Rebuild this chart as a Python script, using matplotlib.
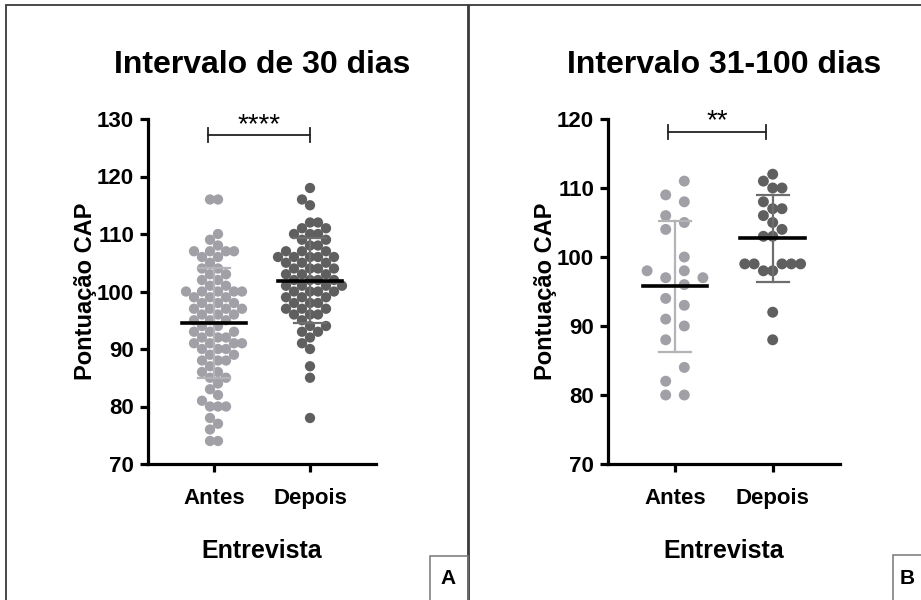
import numpy as np
import matplotlib
matplotlib.use("Agg")
import matplotlib.pyplot as plt
from matplotlib.patches import Rectangle

plt.rcParams['font.family'] = ['Liberation Sans', 'DejaVu Sans']
plt.rcParams['font.weight'] = 'bold'

# ---- data ----
groups = ['Antes', 'Depois']

a30_antes = [116, 116, 110, 109, 108, 107, 107, 107, 107, 106, 106, 105, 104, 104,
             103, 103, 102, 102, 101, 101, 100, 100, 100, 100, 100, 99, 99, 99,
             98, 98, 98, 97, 97, 97, 97, 96, 96, 96, 95, 95, 95, 94, 94, 93, 93,
             93, 92, 92, 92, 91, 91, 91, 91, 90, 90, 90, 89, 89, 88, 88, 88, 87,
             86, 86, 85, 85, 84, 83, 82, 81, 80, 80, 80, 78, 77, 76, 74, 74]
a30_depois = [118, 116, 115, 112, 112, 111, 111, 110, 110, 110, 109, 109, 108,
              108, 107, 107, 107, 106, 106, 106, 106, 106, 105, 105, 105, 104,
              104, 104, 104, 103, 103, 103, 102, 102, 102, 102, 101, 101, 101,
              101, 100, 100, 100, 100, 99, 99, 99, 98, 98, 98, 97, 97, 97, 96,
              96, 96, 95, 94, 94, 93, 93, 92, 91, 90, 87, 85, 78]

b100_antes = [111, 109, 108, 106, 105, 104, 100, 98, 98, 97, 97, 96, 94, 93, 91,
              90, 88, 84, 82, 80, 80]
b100_depois = [112, 111, 110, 110, 108, 107, 107, 106, 105, 104, 103, 103, 99,
               99, 99, 99, 99, 98, 98, 92, 88]

titles = ['Intervalo de 30 dias', 'Intervalo 31-100 dias']
stars = ['****', '**']
panel_tags = ['A', 'B']

c_antes = '#a0a0a6'
c_depois = '#5f5f5f'
c_bar_antes = '#b4b4b8'
c_bar_depois = '#6e6e6e'

W, H = 921, 600
fig = plt.figure(figsize=(W / 100, H / 100), dpi=100)


def fx(px):
    return px / W


def fy(py):
    return 1 - py / H


def swarm(vals, ppu_y, g, d, odd=False):
    # beeswarm on a column grid (pixel units), lowest value first
    placed = []
    offs = np.zeros(len(vals))
    if odd:
        cols = [(2 * k + 1) * g for k in range(-10, 10)]
    else:
        cols = [k * g for k in range(-15, 16)]
    flip = -1
    for idx in np.argsort(vals, kind='stable'):
        y = vals[idx] * ppu_y
        cols.sort(key=lambda c: (round(abs(c), 3), -flip * c))
        for c in cols:
            if all((c - px) ** 2 + (y - py) ** 2 >= d * d - 1e-6 for px, py in placed):
                break
        if c != 0:
            flip = -np.sign(c)
        placed.append((c, y))
        offs[idx] = c
    return offs


def panel(ax_px, ylim, yticks, data, title, star, bracket, grid, msize, odd):
    x0, x1, ytop, ybot, xa, xb = ax_px
    ax = fig.add_axes([fx(x0), fy(ybot), fx(x1 - x0), (ybot - ytop) / H])
    ppu_x = xb - xa
    ax.set_xlim((x0 - xa) / ppu_x, (x1 - xa) / ppu_x)
    ax.set_ylim(*ylim)
    ppu_y = (ybot - ytop) / (ylim[1] - ylim[0])

    for i, (vals, col, bcol) in enumerate(zip(data, [c_antes, c_depois],
                                               [c_bar_antes, c_bar_depois])):
        v = np.array(vals, dtype=float)
        off = swarm(v, ppu_y, grid[0], grid[1], odd[i]) / ppu_x
        ax.scatter(i + off, v, s=msize, color=col, edgecolors='none', zorder=2)
        m, sd = v.mean(), v.std(ddof=1)
        ax.plot([i, i], [m - sd, m + sd], color=bcol, lw=1.6, zorder=3)
        ax.plot([i - 0.165, i + 0.165], [m + sd, m + sd], color=bcol, lw=1.6, zorder=3)
        ax.plot([i - 0.165, i + 0.165], [m - sd, m - sd], color=bcol, lw=1.6, zorder=3)
        ax.plot([i - 0.33, i + 0.33], [m, m], color='black', lw=2.6, zorder=4)

    bl, br, by, bh = bracket
    kw = dict(color='#222222', lw=1.3, clip_on=False)
    ax.plot([bl, br], [by, by], **kw)
    ax.plot([bl, bl], [by - bh, by + bh], **kw)
    ax.plot([br, br], [by - bh, by + bh], **kw)
    ax.text((bl + br) / 2, by + 0.55, star, ha='center', va='baseline',
            fontsize=20, fontweight='normal', clip_on=False)

    for s in ['top', 'right']:
        ax.spines[s].set_visible(False)
    for s in ['left', 'bottom']:
        ax.spines[s].set_linewidth(2.3)
    ax.set_yticks(yticks)
    ax.set_xticks([0, 1])
    ax.set_xticklabels(groups)
    ax.tick_params(width=2.3, length=6)
    ax.tick_params(axis='y', labelsize=16, pad=4)
    ax.tick_params(axis='x', labelsize=16, pad=11)
    for lab in ax.get_xticklabels() + ax.get_yticklabels():
        lab.set_fontweight('bold')
    ax.set_ylabel('Pontuação CAP', fontsize=17, fontweight='bold', labelpad=0)
    ax.set_xlabel('Entrevista', fontsize=18, fontweight='bold', labelpad=22)
    ax.set_title(title, fontsize=23, fontweight='bold', pad=33)
    return ax


panel((148, 376, 119, 464, 214, 310), (70, 130), [70, 80, 90, 100, 110, 120, 130],
      [a30_antes, a30_depois], titles[0], stars[0], (-0.065, 1.0, 127.2, 1.2),
      grid=(4.0, 7.5), msize=55, odd=(True, False))
panel((608, 840, 119, 464, 675, 772.7), (70, 120), [70, 80, 90, 100, 110, 120],
      [b100_antes, b100_depois], titles[1], stars[1], (-0.075, 0.93, 118.1, 1.0),
      grid=(9.3, 9.0), msize=62, odd=(True, False))

# panel frames and corner tags
edge = '#3a3a3a'
fig.add_artist(Rectangle((fx(5.5), fy(640)), fx(468 - 5.5), (640 - 5.5) / H,
                         transform=fig.transFigure, fill=False, ec=edge, lw=1.3))
fig.add_artist(Rectangle((fx(469), fy(640)), fx(500), (640 - 5.5) / H,
                         transform=fig.transFigure, fill=False, ec=edge, lw=1.3))
fig.add_artist(Rectangle((fx(430), fy(640)), fx(468 - 430), (640 - 556) / H,
                         transform=fig.transFigure, fill=False, ec='#777777', lw=1.1))
fig.add_artist(Rectangle((fx(893), fy(640)), fx(60), (640 - 555) / H,
                         transform=fig.transFigure, fill=False, ec='#777777', lw=1.1))
fig.text(fx(448), fy(578), panel_tags[0], ha='center', va='center',
         fontsize=15, fontweight='bold')
fig.text(fx(907), fy(578), panel_tags[1], ha='center', va='center',
         fontsize=15, fontweight='bold')

fig.savefig('out.png', dpi=100)
